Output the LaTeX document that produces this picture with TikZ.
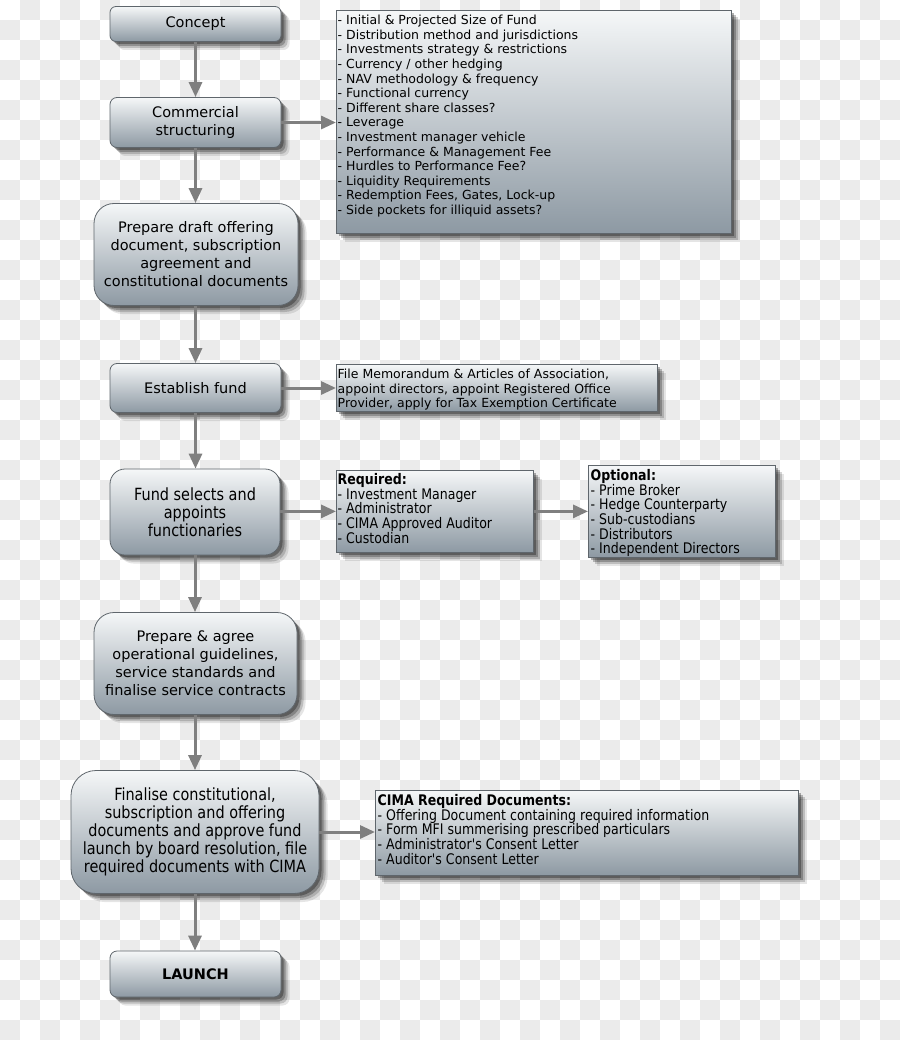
\documentclass[tikz,border=0pt]{standalone}
\usepackage{fontspec}
\setmainfont{DejaVu Sans}
\newfontfamily\condfont[FakeStretch=0.86]{DejaVu Sans}
\usetikzlibrary{shadows,arrows.meta,calc}
\definecolor{chk}{HTML}{EBEBEB}
\definecolor{boxtop}{HTML}{F5F7F8}
\definecolor{boxbot}{HTML}{8D99A3}
\definecolor{boxline}{HTML}{5F666C}
\definecolor{arrgray}{HTML}{7F7F7F}
\newcommand\fontL{\fontsize{14.5}{18}\selectfont\lineskiplimit=-10pt}
\newcommand\fontLc{\condfont\fontsize{16.8}{18}\selectfont\lineskiplimit=-10pt}
\newcommand\fontS{\fontsize{12.5}{14.6}\selectfont\lineskiplimit=-10pt}
\newcommand\fontSc{\condfont\fontsize{14.6}{14.6}\selectfont\lineskiplimit=-10pt}
\newcommand\fl{\rule{0pt}{14pt}}
\tikzset{
  blurshadow/.style={
    general shadow={fill=black,opacity=.30,shadow xshift=2.5pt,shadow yshift=-2.5pt},
    general shadow={fill=black,opacity=.24,shadow xshift=4.5pt,shadow yshift=-4.5pt},
    general shadow={fill=black,opacity=.17,shadow xshift=6.5pt,shadow yshift=-6.5pt},
    general shadow={fill=black,opacity=.10,shadow xshift=8.5pt,shadow yshift=-8.5pt}},
  gbox/.style={blurshadow, draw=boxline, line width=0.8pt, top color=boxtop, bottom color=boxbot, inner sep=0pt},
  lbox/.style={gbox, rounded corners=#1, align=center},
  rbox/.style={gbox, anchor=north west},
  txt/.style={anchor=north west, inner sep=0pt, align=left},
  conn/.style={draw=arrgray, line width=3pt, -{Triangle[length=15pt,width=13pt]}, fill=arrgray}
}
\begin{document}
\begin{tikzpicture}[x=1pt,y=-1pt]
\useasboundingbox (0,0) rectangle (900,1040);
\fill[white] (0,0) rectangle (900,1040);
\foreach \i in {0,...,44}{
  \foreach \j in {0,...,51}{
    \pgfmathtruncatemacro\k{mod(\i+\j,2)}
    \ifnum\k=1 \fill[chk] (\i*20,\j*20) rectangle ++(20,20); \fi
  }
}
% left flow
\node[lbox=6pt, minimum width=171pt, minimum height=35pt, font=\fontL] (concept) at (195.5,24) {Concept};
\node[lbox=7pt, minimum width=171pt, minimum height=50pt, font=\fontL] (commercial) at (195.5,122.5) {Commercial\\structuring};
\node[lbox=20pt, minimum width=204pt, minimum height=102pt, font=\fontL] (draft) at (196,254.5) {Prepare draft offering\\document, subscription\\agreement and\\constitutional documents};
\node[lbox=7pt, minimum width=171pt, minimum height=49pt, font=\fontL] (establish) at (195.5,388) {Establish fund};
\node[lbox=15pt, minimum width=170pt, minimum height=86pt, font=\fontLc] (selects) at (195,512) {Fund selects and\\appoints\\functionaries};
\node[lbox=20pt, minimum width=203pt, minimum height=102pt, font=\fontL] (agree) at (195.5,663.5) {Prepare \& agree\\operational guidelines,\\service standards and\\finalise service contracts};
\node[lbox=25pt, minimum width=248pt, minimum height=123pt, font=\fontLc] (finalise) at (195,832) {Finalise constitutional,\\subscription and offering\\documents and approve fund\\launch by board resolution, file\\required documents with CIMA};
\node[lbox=7pt, minimum width=171pt, minimum height=46pt, font=\fontL\bfseries] (launch) at (195.5,974) {LAUNCH};
% right boxes
\node[rbox, minimum width=395pt, minimum height=223pt] (list) at (336,10) {};
\node[txt, font=\fontS] (listtxt) at (337.5,10.5) {\fl- Initial \& Projected Size of Fund\\- Distribution method and jurisdictions\\- Investments strategy \& restrictions\\- Currency / other hedging\\- NAV methodology \& frequency\\- Functional currency\\- Different share classes?\\- Leverage\\- Investment manager vehicle\\- Performance \& Management Fee\\- Hurdles to Performance Fee?\\- Liquidity Requirements\\- Redemption Fees, Gates, Lock-up\\- Side pockets for illiquid assets?};
\node[rbox, minimum width=321pt, minimum height=47pt] (memo) at (336,364) {};
\node[txt, font=\fontS] (memotxt) at (337.5,364.5) {\fl File Memorandum \& Articles of Association,\\appoint directors, appoint Registered Office\\Provider, apply for Tax Exemption Certificate};
\node[rbox, minimum width=197pt, minimum height=82pt] (required) at (336,470) {};
\node[txt, font=\fontSc] (reqtxt) at (337.5,470.5) {\fl\textbf{Required:}\\- Investment Manager\\- Administrator\\- CIMA Approved Auditor\\- Custodian};
\node[rbox, minimum width=187pt, minimum height=92pt] (optional) at (588,465) {};
\node[txt, font=\fontSc] (opttxt) at (590.5,466.5) {\fl\textbf{Optional:}\\- Prime Broker\\- Hedge Counterparty\\- Sub-custodians\\- Distributors\\- Independent Directors};
\node[rbox, minimum width=423pt, minimum height=85pt] (cima) at (375,790) {};
\node[txt, font=\fontSc] (cimatxt) at (377.5,791.5) {\fl\textbf{CIMA Required Documents:}\\- Offering Document containing required information\\- Form MFI summerising prescribed particulars\\- Administrator's Consent Letter\\- Auditor's Consent Letter};
% connectors
\draw[conn] (concept.south) -- (concept.south |- commercial.north);
\draw[conn] (commercial.south) -- (commercial.south |- draft.north);
\draw[conn] (draft.south -| commercial.south) -- (commercial.south |- establish.north);
\draw[conn] (establish.south) -- (establish.south |- selects.north);
\draw[conn] (selects.south) -- (selects.south |- agree.north);
\draw[conn] (agree.south -| selects.south) -- (selects.south |- finalise.north);
\draw[conn] (finalise.south) -- (finalise.south |- launch.north);
\draw[conn] (commercial.east) -- (commercial.east -| list.west);
\draw[conn] (establish.east) -- (establish.east -| memo.west);
\draw[conn] (selects.east |- required.west) -- (required.west);
\draw[conn] (required.east) -- (required.east -| optional.west);
\draw[conn] (finalise.east) -- (finalise.east -| cima.west);
\end{tikzpicture}
\end{document}
